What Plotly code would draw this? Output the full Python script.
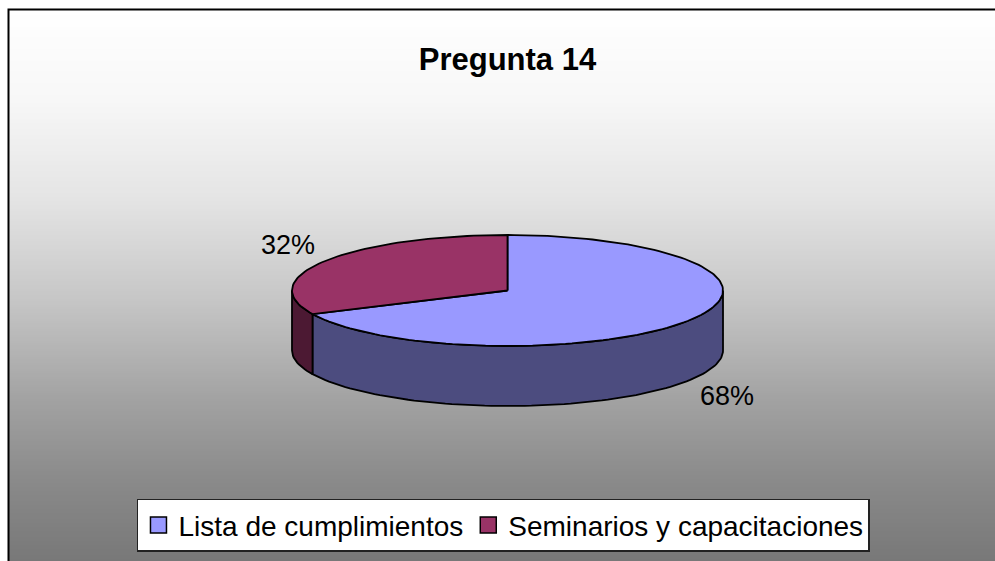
import math
import plotly.graph_objects as go

# ---- data ----
categories = ["Lista de cumplimientos", "Seminarios y capacitaciones"]
values = [68, 32]
top_colors = ["#9999ff", "#993366"]
side_colors = ["#4c4c7f", "#4c1933"]
title_text = "Pregunta 14"

# ---- geometry / style (pixel units on hidden axes) ----
W, H = 995, 561
CX, CY = 507.5, 290.5
RX, RY = 215.5, 55.5
DEPTH = 60
FONT = "Liberation Sans, Arial, sans-serif"
N = 200


def pt(theta_deg, dy=0.0):
    t = math.radians(theta_deg)
    return CX + RX * math.sin(t), CY - RY * math.cos(t) + dy


def arc(a, b, dy=0.0):
    n = max(2, int(abs(b - a) / 360 * N) + 2)
    xs, ys = [], []
    for i in range(n):
        th = a + (b - a) * i / (n - 1)
        x, y = pt(th, dy)
        xs.append(x)
        ys.append(y)
    return xs, ys


fig = go.Figure()

total = sum(values)
angles = []
acc = 0.0
for v in values:
    a = acc / total * 360
    acc += v
    b = acc / total * 360
    angles.append((a, b))

# side walls (front half: 90..270 deg clockwise from top)
for (a, b), sc in zip(angles, side_colors):
    s, e = max(a, 90), min(b, 270)
    if e > s:
        x1, y1 = arc(s, e)
        x2, y2 = arc(e, s, DEPTH)
        fig.add_trace(go.Scatter(
            x=x1 + x2 + [x1[0]], y=y1 + y2 + [y1[0]], mode="lines",
            fill="toself", fillcolor=sc, line=dict(color="black", width=1.8),
            hoverinfo="skip", showlegend=False))

# top faces
for (a, b), tc in zip(angles, top_colors):
    xs, ys = arc(a, b)
    fig.add_trace(go.Scatter(
        x=[CX] + xs + [CX], y=[CY] + ys + [CY], mode="lines",
        fill="toself", fillcolor=tc, line=dict(color="black", width=1.8),
        hoverinfo="skip", showlegend=False))

# legend entries
for cat, tc in zip(categories, top_colors):
    fig.add_trace(go.Scatter(
        x=[None], y=[None], mode="markers", name=cat,
        marker=dict(symbol="square", size=19, color=tc,
                    line=dict(color="black", width=1.5))))

# percentage labels
KX, KY = 1.207, 1.53
for (a, b), v in zip(angles, values):
    mid = (a + b) / 2
    t = math.radians(mid)
    front = math.cos(t) < 0
    lx = CX + KX * RX * math.sin(t)
    ly = CY - KY * RY * math.cos(t) + (DEPTH if front else 0)
    fig.add_annotation(x=lx, y=ly, text=f"{round(v / total * 100)}%",
                       showarrow=False, font=dict(family=FONT, size=27, color="black"),
                       xanchor="center", yanchor="middle")

# gradient background
shapes = []
stops = [(9, 255), (100, 247), (200, 228), (300, 198), (400, 162), (480, 138), (561, 120)]


def gray_at(y):
    for (y0, g0), (y1, g1) in zip(stops[:-1], stops[1:]):
        if y0 <= y <= y1:
            return g0 + (g1 - g0) * (y - y0) / (y1 - y0)
    return stops[-1][1]


y = 9
while y < H:
    g = int(round(gray_at(y + 1)))
    shapes.append(dict(type="rect", xref="x", yref="y", x0=8, x1=W + 5, y0=y, y1=y + 2.2,
                       fillcolor=f"rgb({g},{g},{g})", line=dict(width=0), layer="below"))
    y += 2
# chart border
shapes.append(dict(type="rect", xref="x", yref="y", x0=8.5, x1=W + 20, y0=9.5, y1=H + 20,
                   line=dict(color="black", width=2), fillcolor="rgba(0,0,0,0)", layer="above"))

fig.update_layout(
    width=W, height=H,
    margin=dict(l=0, r=0, t=0, b=0),
    paper_bgcolor="white", plot_bgcolor="white",
    shapes=shapes,
    xaxis=dict(range=[0, W], visible=False, fixedrange=True),
    yaxis=dict(range=[H, 0], visible=False, fixedrange=True),
    title=dict(text=f"<b>{title_text}</b>", x=0.51, xanchor="center",
               y=1 - 59 / H, yanchor="middle",
               font=dict(family=FONT, size=31, color="black")),
    legend=dict(orientation="h", x=0.506, xanchor="center", y=0.0166, yanchor="bottom",
                bgcolor="white", bordercolor="#222222", borderwidth=1.5,
                font=dict(family=FONT, size=28, color="black"),
                itemclick=False, itemdoubleclick=False),
    showlegend=True,
    hovermode=False,
)

fig.write_html("out.html", config={"displayModeBar": False})

# remove the default page margin so the figure sits at the window's top-left corner
with open("out.html", "r", encoding="utf-8") as f:
    html = f.read()
html = html.replace("<head>", "<head><style>html,body{margin:0;padding:0;overflow:hidden;}</style>", 1)
with open("out.html", "w", encoding="utf-8") as f:
    f.write(html)
